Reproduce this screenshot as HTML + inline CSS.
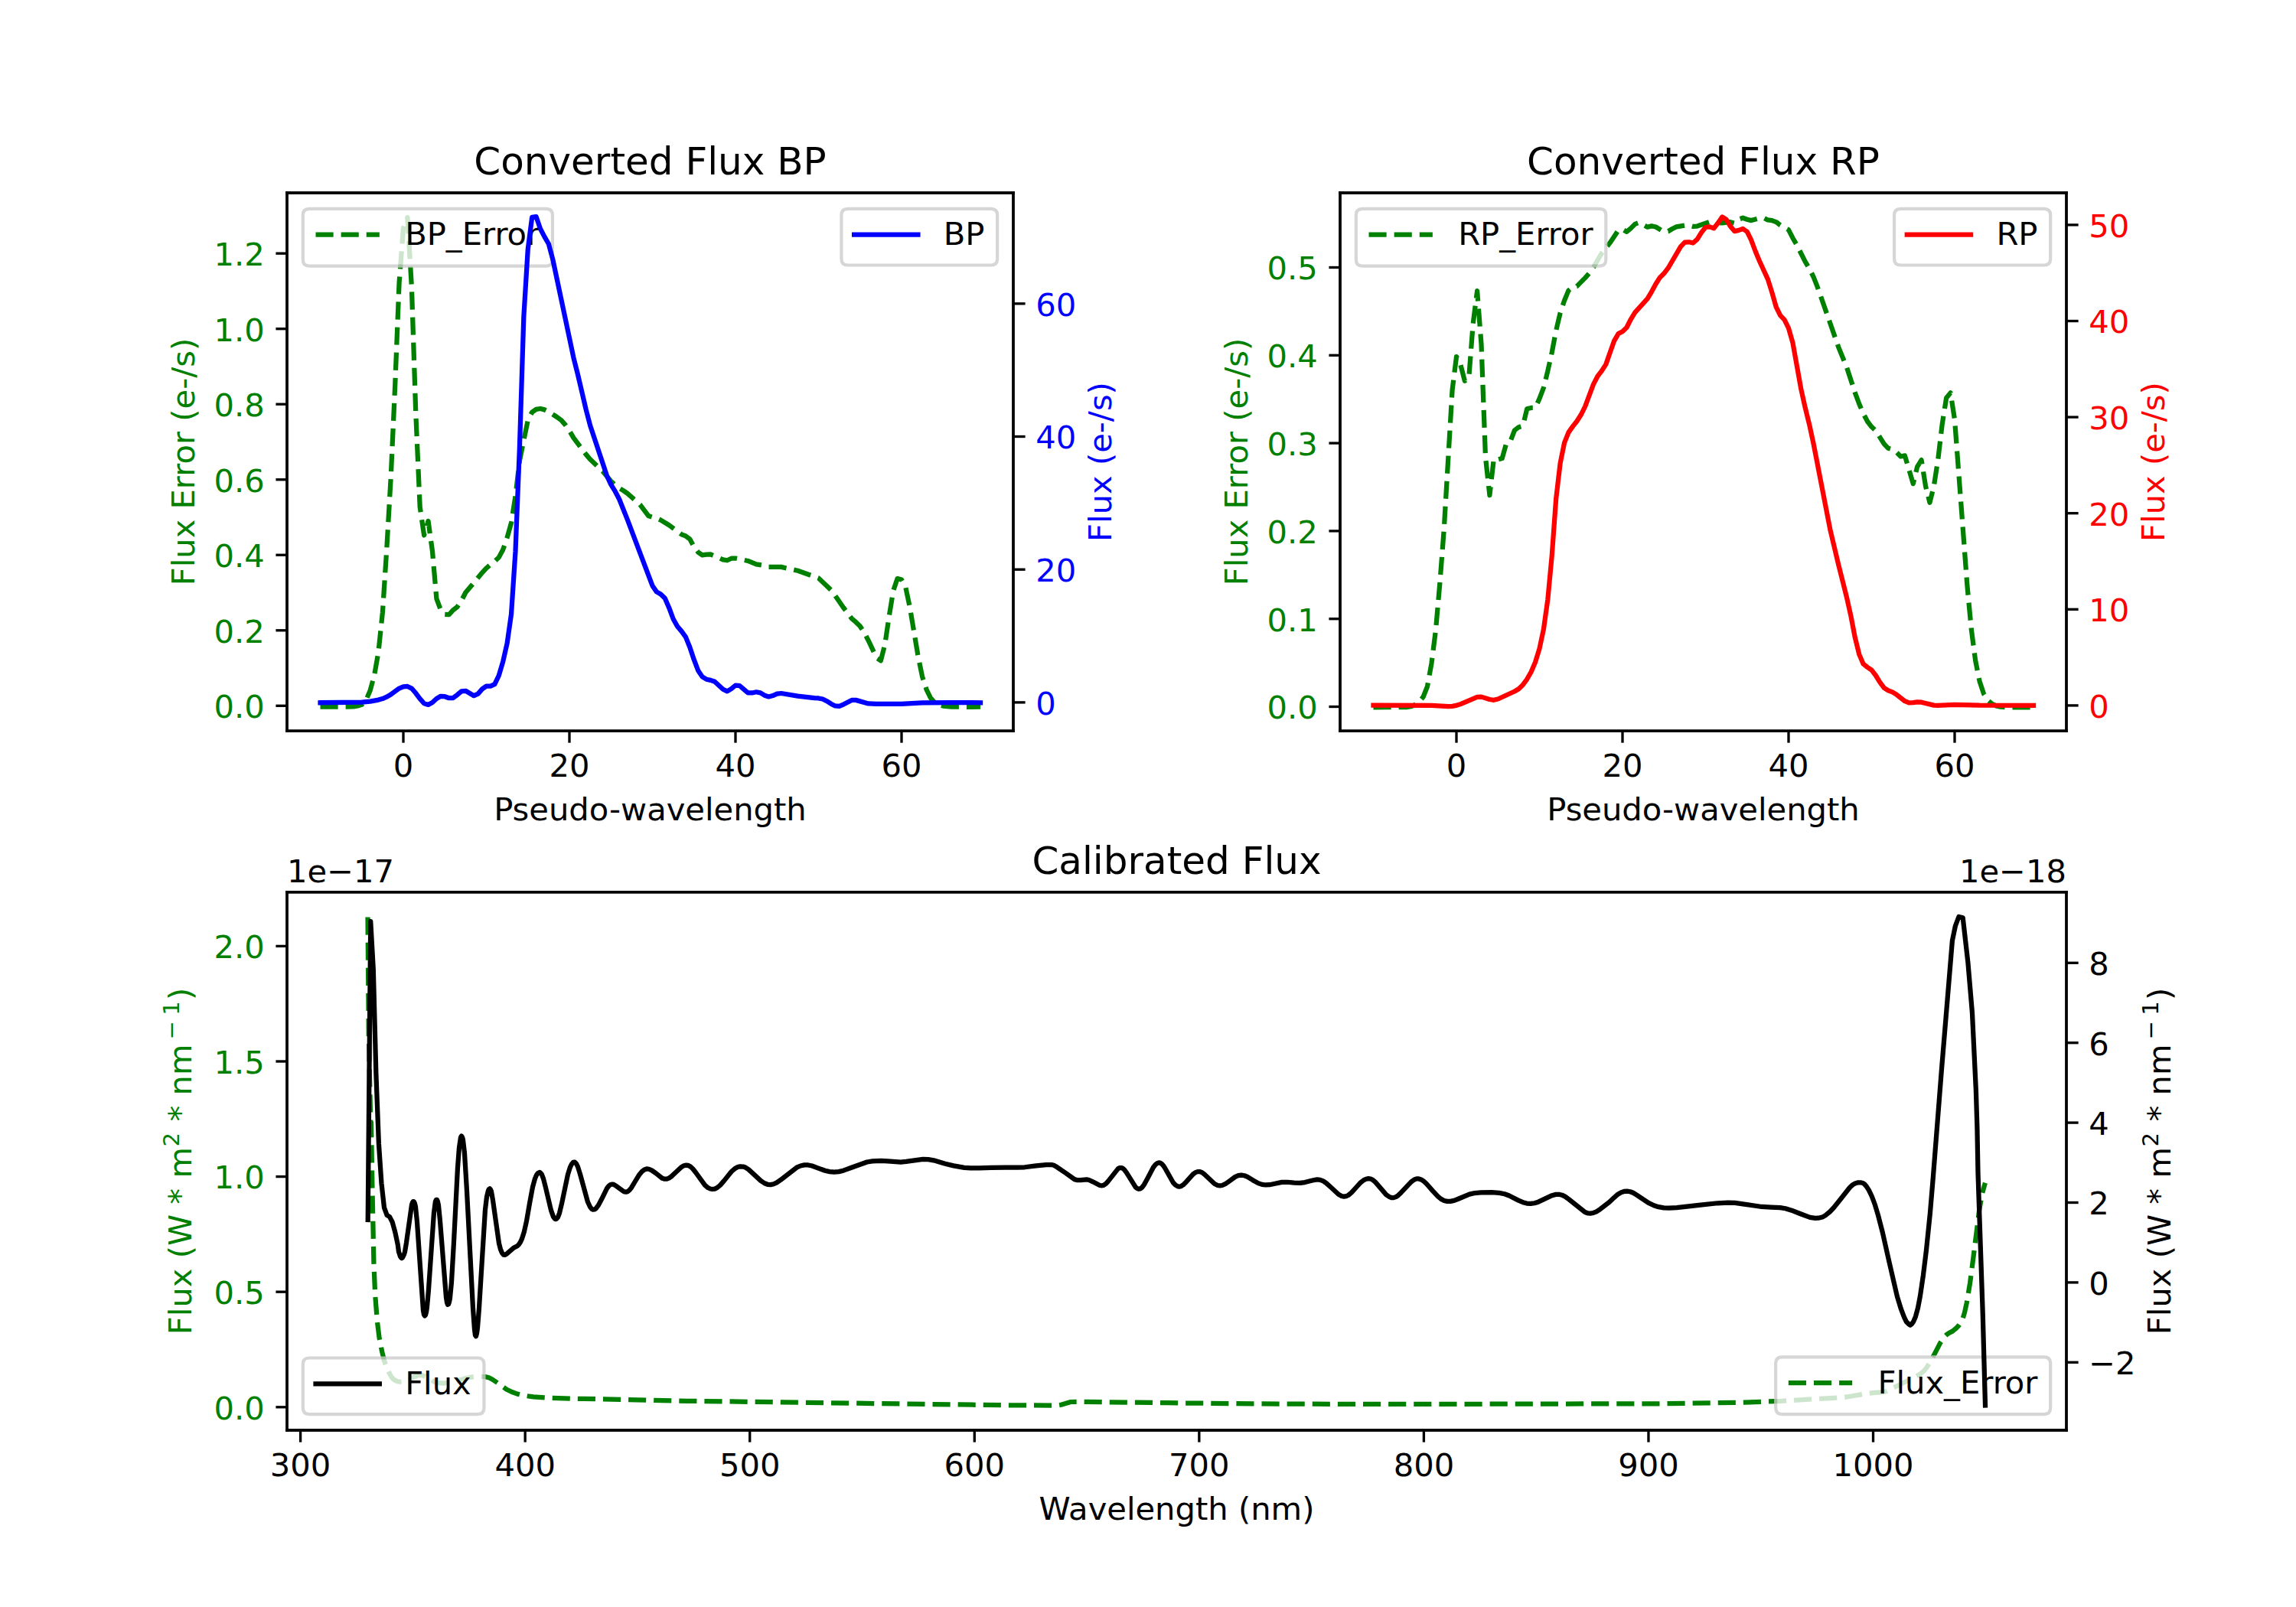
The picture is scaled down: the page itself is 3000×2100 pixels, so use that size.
<!DOCTYPE html>
<html lang="en"><head><meta charset="utf-8"><title>Gaia XP spectra</title>
<style>html,body{margin:0;padding:0;background:#fff}svg text{white-space:pre}</style></head>
<body><svg width="3000" height="2100" viewBox="0 0 720 504" style="display:block"><defs><style type="text/css">*{stroke-linejoin: round; stroke-linecap: butt}</style></defs><g id="figure_1"><g id="patch_1"><path d="M 0 504 L 720 504 L 720 0 L 0 0 z " style="fill: #ffffff"/></g><g id="axes_1"><g id="patch_2"><path d="M 90 229.210 L 317.755 229.210 L 317.755 60.48 L 90 60.48 z " style="fill: #ffffff"/></g><g id="matplotlib.axis_1"><g id="xtick_1"><g id="line2d_1"><g><path d="M 0 0 L 0 3.75" transform="translate(126.48 229.210)" style="stroke: #000000; stroke-width: 0.8"/></g></g><g id="text_1"><text style="font-size: 10px; font-family: 'DejaVu Sans', sans-serif; text-anchor: middle" x="126.48" y="243.558">0</text></g></g><g id="xtick_2"><g id="line2d_2"><g><path d="M 0 0 L 0 3.75" transform="translate(178.56 229.210)" style="stroke: #000000; stroke-width: 0.8"/></g></g><g id="text_2"><text style="font-size: 10px; font-family: 'DejaVu Sans', sans-serif; text-anchor: middle" x="178.56" y="243.558">20</text></g></g><g id="xtick_3"><g id="line2d_3"><g><path d="M 0 0 L 0 3.75" transform="translate(230.64 229.210)" style="stroke: #000000; stroke-width: 0.8"/></g></g><g id="text_3"><text style="font-size: 10px; font-family: 'DejaVu Sans', sans-serif; text-anchor: middle" x="230.64" y="243.558">40</text></g></g><g id="xtick_4"><g id="line2d_4"><g><path d="M 0 0 L 0 3.75" transform="translate(282.72 229.210)" style="stroke: #000000; stroke-width: 0.8"/></g></g><g id="text_4"><text style="font-size: 10px; font-family: 'DejaVu Sans', sans-serif; text-anchor: middle" x="282.72" y="243.558">60</text></g></g><g id="text_5"><text style="font-size: 10px; font-family: 'DejaVu Sans', sans-serif; text-anchor: middle" x="203.877" y="257.236">Pseudo-wavelength</text></g></g><g id="matplotlib.axis_2"><g id="ytick_1"><g id="line2d_5"><g><path d="M 0 0 L -3.5 0" transform="translate(90 221.352)" style="stroke: #000000; stroke-width: 0.8"/></g></g><g id="text_6"><text style="font-size: 10px; font-family: 'DejaVu Sans', sans-serif; text-anchor: end; fill: #008000" x="83" y="225.151">0.0</text></g></g><g id="ytick_2"><g id="line2d_6"><g><path d="M 0 0 L -3.5 0" transform="translate(90 197.707)" style="stroke: #000000; stroke-width: 0.8"/></g></g><g id="text_7"><text style="font-size: 10px; font-family: 'DejaVu Sans', sans-serif; text-anchor: end; fill: #008000" x="83" y="201.506">0.2</text></g></g><g id="ytick_3"><g id="line2d_7"><g><path d="M 0 0 L -3.5 0" transform="translate(90 174.062)" style="stroke: #000000; stroke-width: 0.8"/></g></g><g id="text_8"><text style="font-size: 10px; font-family: 'DejaVu Sans', sans-serif; text-anchor: end; fill: #008000" x="83" y="177.861">0.4</text></g></g><g id="ytick_4"><g id="line2d_8"><g><path d="M 0 0 L -3.5 0" transform="translate(90 150.417)" style="stroke: #000000; stroke-width: 0.8"/></g></g><g id="text_9"><text style="font-size: 10px; font-family: 'DejaVu Sans', sans-serif; text-anchor: end; fill: #008000" x="83" y="154.216">0.6</text></g></g><g id="ytick_5"><g id="line2d_9"><g><path d="M 0 0 L -3.5 0" transform="translate(90 126.772)" style="stroke: #000000; stroke-width: 0.8"/></g></g><g id="text_10"><text style="font-size: 10px; font-family: 'DejaVu Sans', sans-serif; text-anchor: end; fill: #008000" x="83" y="130.572">0.8</text></g></g><g id="ytick_6"><g id="line2d_10"><g><path d="M 0 0 L -3.5 0" transform="translate(90 103.128)" style="stroke: #000000; stroke-width: 0.8"/></g></g><g id="text_11"><text style="font-size: 10px; font-family: 'DejaVu Sans', sans-serif; text-anchor: end; fill: #008000" x="83" y="106.927">1.0</text></g></g><g id="ytick_7"><g id="line2d_11"><g><path d="M 0 0 L -3.5 0" transform="translate(90 79.483)" style="stroke: #000000; stroke-width: 0.8"/></g></g><g id="text_12"><text style="font-size: 10px; font-family: 'DejaVu Sans', sans-serif; text-anchor: end; fill: #008000" x="83" y="83.282">1.2</text></g></g><g id="text_13"><text style="font-size: 10px; font-family: 'DejaVu Sans', sans-serif; text-anchor: middle; fill: #008000" x="61.017" y="144.845" transform="rotate(-90 61.017 144.845)">Flux Error (e-/s)</text></g></g><g id="line2d_12"><path d="M 100.44 221.700 L 110.856 221.630 L 112.158 221.410 L 113.46 220.988 L 114.762 219.632 L 116.064 216.599 L 117.366 211.849 L 118.668 204.525 L 119.97 192.072 L 121.272 172.14 L 122.574 149.664 L 123.876 121.123 L 125.178 88.684 L 126.48 71.603 L 127.782 68.229 L 129.084 89.886 L 130.386 129.590 L 131.688 158.990 L 132.99 167.88 L 134.292 163.415 L 135.594 172.864 L 136.896 187.788 L 138.198 191.245 L 139.5 192.700 L 140.802 192.773 L 142.104 191.315 L 143.406 190.317 L 144.708 188.385 L 146.01 185.816 L 148.614 182.740 L 151.218 179.609 L 152.52 178.195 L 153.822 177.035 L 155.124 176.079 L 156.426 174.807 L 157.728 172.384 L 159.03 168.626 L 160.332 163.934 L 161.634 155.608 L 162.936 144.496 L 165.54 131.796 L 166.842 129.256 L 168.144 128.368 L 169.446 128.157 L 170.748 128.494 L 172.05 129.121 L 174.654 130.800 L 175.956 131.745 L 177.258 133.223 L 178.56 135.075 L 179.862 137.305 L 183.768 142.530 L 185.07 144.076 L 188.976 147.767 L 191.58 150.905 L 192.882 152.094 L 194.184 153.086 L 195.486 153.865 L 196.788 154.773 L 200.694 158.257 L 203.298 161.751 L 204.6 162.211 L 205.902 162.535 L 207.204 163.118 L 209.808 164.690 L 213.714 167.588 L 215.016 168.109 L 216.318 169.083 L 217.62 171.452 L 218.922 173.204 L 220.224 174.083 L 221.526 173.909 L 222.828 173.871 L 225.432 174.950 L 226.734 175.548 L 228.036 175.745 L 229.338 175.134 L 230.64 175.081 L 234.546 175.904 L 237.15 176.977 L 239.754 177.374 L 241.056 177.818 L 244.962 177.822 L 250.17 178.972 L 256.68 181.318 L 259.284 183.764 L 260.586 185.048 L 261.888 186.791 L 264.492 190.559 L 267.096 194.016 L 268.398 195.106 L 269.7 196.384 L 271.002 198.375 L 272.304 200.863 L 274.908 206.360 L 276.21 207.205 L 277.512 202.060 L 278.814 193.267 L 280.116 185.294 L 281.418 181.457 L 282.72 181.819 L 284.022 184.357 L 285.324 190.457 L 287.928 205.961 L 289.23 212.245 L 290.532 216.276 L 291.834 218.914 L 293.136 220.354 L 294.438 221.104 L 295.74 221.418 L 298.344 221.673 L 303.552 221.709 L 307.458 221.7 L 307.458 221.7 " clip-path="url(#p90ce2bbedb)" style="fill: none; stroke-dasharray: 5.55,2.4; stroke-dashoffset: 0; stroke: #008000; stroke-width: 1.5"/></g><g id="patch_3"><path d="M 90 229.210 L 90 60.48 " style="fill: none; stroke: #000000; stroke-width: 0.8; stroke-linejoin: miter; stroke-linecap: square"/></g><g id="patch_4"><path d="M 317.755 229.210 L 317.755 60.48 " style="fill: none; stroke: #000000; stroke-width: 0.8; stroke-linejoin: miter; stroke-linecap: square"/></g><g id="patch_5"><path d="M 90 229.210 L 317.755 229.210 " style="fill: none; stroke: #000000; stroke-width: 0.8; stroke-linejoin: miter; stroke-linecap: square"/></g><g id="patch_6"><path d="M 90 60.48 L 317.755 60.48 " style="fill: none; stroke: #000000; stroke-width: 0.8; stroke-linejoin: miter; stroke-linecap: square"/></g><g id="text_14"><text style="font-size: 12px; font-family: 'DejaVu Sans', sans-serif; text-anchor: middle" x="203.877" y="54.73">Converted Flux BP</text></g><g id="legend_1"><g id="patch_7"><path d="M 97 83.436 L 171.260 83.436 Q 173.260 83.436 173.260 81.436 L 173.260 67.48 Q 173.260 65.48 171.260 65.48 L 97 65.48 Q 95 65.48 95 67.48 L 95 81.436 Q 95 83.436 97 83.436 z " style="fill: #ffffff; opacity: 0.8; stroke: #cccccc; stroke-linejoin: miter"/></g><g id="line2d_13"><path d="M 99 73.578 L 109 73.578 L 119 73.578 " style="fill: none; stroke-dasharray: 5.55,2.4; stroke-dashoffset: 0; stroke: #008000; stroke-width: 1.5"/></g><g id="text_15"><text style="font-size: 10px; font-family: 'DejaVu Sans', sans-serif; text-anchor: start" x="127" y="76.838">BP_Error</text></g></g></g><g id="axes_2"><g id="patch_8"><path d="M 420.244 229.210 L 648 229.210 L 648 60.48 L 420.244 60.48 z " style="fill: #ffffff"/></g><g id="matplotlib.axis_3"><g id="xtick_5"><g id="line2d_14"><g><path d="M 0 0 L 0 3.75" transform="translate(456.72 229.210)" style="stroke: #000000; stroke-width: 0.8"/></g></g><g id="text_16"><text style="font-size: 10px; font-family: 'DejaVu Sans', sans-serif; text-anchor: middle" x="456.72" y="243.558">0</text></g></g><g id="xtick_6"><g id="line2d_15"><g><path d="M 0 0 L 0 3.75" transform="translate(508.8 229.210)" style="stroke: #000000; stroke-width: 0.8"/></g></g><g id="text_17"><text style="font-size: 10px; font-family: 'DejaVu Sans', sans-serif; text-anchor: middle" x="508.8" y="243.558">20</text></g></g><g id="xtick_7"><g id="line2d_16"><g><path d="M 0 0 L 0 3.75" transform="translate(560.88 229.210)" style="stroke: #000000; stroke-width: 0.8"/></g></g><g id="text_18"><text style="font-size: 10px; font-family: 'DejaVu Sans', sans-serif; text-anchor: middle" x="560.88" y="243.558">40</text></g></g><g id="xtick_8"><g id="line2d_17"><g><path d="M 0 0 L 0 3.75" transform="translate(612.96 229.210)" style="stroke: #000000; stroke-width: 0.8"/></g></g><g id="text_19"><text style="font-size: 10px; font-family: 'DejaVu Sans', sans-serif; text-anchor: middle" x="612.96" y="243.558">60</text></g></g><g id="text_20"><text style="font-size: 10px; font-family: 'DejaVu Sans', sans-serif; text-anchor: middle" x="534.122" y="257.236">Pseudo-wavelength</text></g></g><g id="matplotlib.axis_4"><g id="ytick_8"><g id="line2d_18"><g><path d="M 0 0 L -3.5 0" transform="translate(420.244 221.64)" style="stroke: #000000; stroke-width: 0.8"/></g></g><g id="text_21"><text style="font-size: 10px; font-family: 'DejaVu Sans', sans-serif; text-anchor: end; fill: #008000" x="413.244" y="225.439">0.0</text></g></g><g id="ytick_9"><g id="line2d_19"><g><path d="M 0 0 L -3.5 0" transform="translate(420.244 194.088)" style="stroke: #000000; stroke-width: 0.8"/></g></g><g id="text_22"><text style="font-size: 10px; font-family: 'DejaVu Sans', sans-serif; text-anchor: end; fill: #008000" x="413.244" y="197.887">0.1</text></g></g><g id="ytick_10"><g id="line2d_20"><g><path d="M 0 0 L -3.5 0" transform="translate(420.244 166.536)" style="stroke: #000000; stroke-width: 0.8"/></g></g><g id="text_23"><text style="font-size: 10px; font-family: 'DejaVu Sans', sans-serif; text-anchor: end; fill: #008000" x="413.244" y="170.335">0.2</text></g></g><g id="ytick_11"><g id="line2d_21"><g><path d="M 0 0 L -3.5 0" transform="translate(420.244 138.984)" style="stroke: #000000; stroke-width: 0.8"/></g></g><g id="text_24"><text style="font-size: 10px; font-family: 'DejaVu Sans', sans-serif; text-anchor: end; fill: #008000" x="413.244" y="142.783">0.3</text></g></g><g id="ytick_12"><g id="line2d_22"><g><path d="M 0 0 L -3.5 0" transform="translate(420.244 111.432)" style="stroke: #000000; stroke-width: 0.8"/></g></g><g id="text_25"><text style="font-size: 10px; font-family: 'DejaVu Sans', sans-serif; text-anchor: end; fill: #008000" x="413.244" y="115.231">0.4</text></g></g><g id="ytick_13"><g id="line2d_23"><g><path d="M 0 0 L -3.5 0" transform="translate(420.244 83.88)" style="stroke: #000000; stroke-width: 0.8"/></g></g><g id="text_26"><text style="font-size: 10px; font-family: 'DejaVu Sans', sans-serif; text-anchor: end; fill: #008000" x="413.244" y="87.679">0.5</text></g></g><g id="text_27"><text style="font-size: 10px; font-family: 'DejaVu Sans', sans-serif; text-anchor: middle; fill: #008000" x="391.262" y="144.845" transform="rotate(-90 391.262 144.845)">Flux Error (e-/s)</text></g></g><g id="line2d_24"><path d="M 430.68 221.820 L 441.096 221.792 L 442.398 221.587 L 443.7 221.107 L 445.002 220.174 L 446.304 218.580 L 447.606 215.284 L 448.908 208.069 L 450.21 197.807 L 451.512 183.031 L 452.814 166.162 L 455.418 122.319 L 456.72 111.847 L 458.022 114.422 L 459.324 119.466 L 460.626 118.453 L 461.928 101.555 L 463.23 91.240 L 464.532 108.137 L 465.834 143.374 L 467.136 155.296 L 468.438 143.917 L 469.74 144.131 L 471.042 143.779 L 472.344 139.144 L 473.646 138.388 L 474.948 134.974 L 476.25 133.955 L 477.552 133.551 L 478.854 128.234 L 480.156 127.919 L 481.458 127.917 L 482.76 125.004 L 484.062 121.587 L 485.364 116.319 L 486.666 110.491 L 487.968 103.635 L 489.27 98.140 L 490.572 94.251 L 491.874 91.102 L 493.176 90.038 L 494.478 89.801 L 497.082 87.137 L 498.384 85.662 L 499.686 83.849 L 502.29 79.390 L 504.894 76.122 L 507.498 72.215 L 508.8 71.915 L 510.102 72.702 L 511.404 71.602 L 512.706 70.281 L 514.008 69.811 L 516.612 71.208 L 517.914 70.895 L 519.216 71.158 L 521.82 72.737 L 523.122 72.539 L 524.424 71.755 L 525.726 71.129 L 528.33 70.678 L 529.632 70.662 L 530.934 71.026 L 532.236 70.933 L 536.142 69.607 L 537.444 69.583 L 538.746 69.877 L 540.048 69.941 L 541.35 69.738 L 542.652 69.648 L 543.954 69.988 L 545.256 68.783 L 546.558 68.340 L 547.86 68.817 L 549.162 69.146 L 551.766 68.398 L 553.068 68.307 L 554.37 68.985 L 555.672 69.150 L 556.974 69.619 L 558.276 70.607 L 560.88 72.077 L 562.182 74.629 L 563.484 76.877 L 566.088 82.061 L 567.39 84.241 L 568.692 86.861 L 569.994 90.158 L 576.504 108.793 L 579.108 115.205 L 581.712 123.136 L 583.014 126.666 L 584.316 129.689 L 585.618 132.183 L 586.92 133.882 L 588.222 135.099 L 590.826 139.241 L 592.128 140.597 L 593.43 140.949 L 594.732 141.878 L 596.034 143.153 L 597.336 142.904 L 599.94 151.712 L 601.242 146.358 L 602.544 144.277 L 603.846 152.448 L 605.148 157.610 L 606.45 152.408 L 607.752 144.030 L 609.054 133.004 L 610.356 124.803 L 611.658 123.204 L 612.96 131.546 L 616.866 183.283 L 618.168 197.202 L 619.47 207.170 L 620.772 213.645 L 622.074 217.595 L 623.376 219.627 L 624.678 220.749 L 625.98 221.379 L 627.282 221.698 L 629.886 221.847 L 637.698 221.82 L 637.698 221.82 " clip-path="url(#p267cb06d4f)" style="fill: none; stroke-dasharray: 5.55,2.4; stroke-dashoffset: 0; stroke: #008000; stroke-width: 1.5"/></g><g id="patch_9"><path d="M 420.244 229.210 L 420.244 60.48 " style="fill: none; stroke: #000000; stroke-width: 0.8; stroke-linejoin: miter; stroke-linecap: square"/></g><g id="patch_10"><path d="M 648 229.210 L 648 60.48 " style="fill: none; stroke: #000000; stroke-width: 0.8; stroke-linejoin: miter; stroke-linecap: square"/></g><g id="patch_11"><path d="M 420.244 229.210 L 648 229.210 " style="fill: none; stroke: #000000; stroke-width: 0.8; stroke-linejoin: miter; stroke-linecap: square"/></g><g id="patch_12"><path d="M 420.244 60.48 L 648 60.48 " style="fill: none; stroke: #000000; stroke-width: 0.8; stroke-linejoin: miter; stroke-linecap: square"/></g><g id="text_28"><text style="font-size: 12px; font-family: 'DejaVu Sans', sans-serif; text-anchor: middle" x="534.122" y="54.73">Converted Flux RP</text></g><g id="legend_2"><g id="patch_13"><path d="M 427.244 83.436 L 501.593 83.436 Q 503.593 83.436 503.593 81.436 L 503.593 67.48 Q 503.593 65.48 501.593 65.48 L 427.244 65.48 Q 425.244 65.48 425.244 67.48 L 425.244 81.436 Q 425.244 83.436 427.244 83.436 z " style="fill: #ffffff; opacity: 0.8; stroke: #cccccc; stroke-linejoin: miter"/></g><g id="line2d_25"><path d="M 429.244 73.578 L 439.244 73.578 L 449.244 73.578 " style="fill: none; stroke-dasharray: 5.55,2.4; stroke-dashoffset: 0; stroke: #008000; stroke-width: 1.5"/></g><g id="text_29"><text style="font-size: 10px; font-family: 'DejaVu Sans', sans-serif; text-anchor: start" x="457.244" y="76.838">RP_Error</text></g></g></g><g id="axes_3"><g id="patch_14"><path d="M 90 448.56 L 648 448.56 L 648 279.829 L 90 279.829 z " style="fill: #ffffff"/></g><g id="matplotlib.axis_5"><g id="xtick_9"><g id="line2d_26"><g><path d="M 0 0 L 0 3.75" transform="translate(94.224 448.56)" style="stroke: #000000; stroke-width: 0.8"/></g></g><g id="text_30"><text style="font-size: 10px; font-family: 'DejaVu Sans', sans-serif; text-anchor: middle" x="94.224" y="462.908">300</text></g></g><g id="xtick_10"><g id="line2d_27"><g><path d="M 0 0 L 0 3.75" transform="translate(164.678 448.56)" style="stroke: #000000; stroke-width: 0.8"/></g></g><g id="text_31"><text style="font-size: 10px; font-family: 'DejaVu Sans', sans-serif; text-anchor: middle" x="164.678" y="462.908">400</text></g></g><g id="xtick_11"><g id="line2d_28"><g><path d="M 0 0 L 0 3.75" transform="translate(235.132 448.56)" style="stroke: #000000; stroke-width: 0.8"/></g></g><g id="text_32"><text style="font-size: 10px; font-family: 'DejaVu Sans', sans-serif; text-anchor: middle" x="235.132" y="462.908">500</text></g></g><g id="xtick_12"><g id="line2d_29"><g><path d="M 0 0 L 0 3.75" transform="translate(305.587 448.56)" style="stroke: #000000; stroke-width: 0.8"/></g></g><g id="text_33"><text style="font-size: 10px; font-family: 'DejaVu Sans', sans-serif; text-anchor: middle" x="305.587" y="462.908">600</text></g></g><g id="xtick_13"><g id="line2d_30"><g><path d="M 0 0 L 0 3.75" transform="translate(376.041 448.56)" style="stroke: #000000; stroke-width: 0.8"/></g></g><g id="text_34"><text style="font-size: 10px; font-family: 'DejaVu Sans', sans-serif; text-anchor: middle" x="376.041" y="462.908">700</text></g></g><g id="xtick_14"><g id="line2d_31"><g><path d="M 0 0 L 0 3.75" transform="translate(446.496 448.56)" style="stroke: #000000; stroke-width: 0.8"/></g></g><g id="text_35"><text style="font-size: 10px; font-family: 'DejaVu Sans', sans-serif; text-anchor: middle" x="446.496" y="462.908">800</text></g></g><g id="xtick_15"><g id="line2d_32"><g><path d="M 0 0 L 0 3.75" transform="translate(516.950 448.56)" style="stroke: #000000; stroke-width: 0.8"/></g></g><g id="text_36"><text style="font-size: 10px; font-family: 'DejaVu Sans', sans-serif; text-anchor: middle" x="516.950" y="462.908">900</text></g></g><g id="xtick_16"><g id="line2d_33"><g><path d="M 0 0 L 0 3.75" transform="translate(587.404 448.56)" style="stroke: #000000; stroke-width: 0.8"/></g></g><g id="text_37"><text style="font-size: 10px; font-family: 'DejaVu Sans', sans-serif; text-anchor: middle" x="587.404" y="462.908">1000</text></g></g><g id="text_38"><text style="font-size: 10px; font-family: 'DejaVu Sans', sans-serif; text-anchor: middle" x="369" y="476.586">Wavelength (nm)</text></g></g><g id="matplotlib.axis_6"><g id="ytick_14"><g id="line2d_34"><g><path d="M 0 0 L -3.5 0" transform="translate(90 441.312)" style="stroke: #000000; stroke-width: 0.8"/></g></g><g id="text_39"><text style="font-size: 10px; font-family: 'DejaVu Sans', sans-serif; text-anchor: end; fill: #008000" x="83" y="445.111">0.0</text></g></g><g id="ytick_15"><g id="line2d_35"><g><path d="M 0 0 L -3.5 0" transform="translate(90 405.168)" style="stroke: #000000; stroke-width: 0.8"/></g></g><g id="text_40"><text style="font-size: 10px; font-family: 'DejaVu Sans', sans-serif; text-anchor: end; fill: #008000" x="83" y="408.967">0.5</text></g></g><g id="ytick_16"><g id="line2d_36"><g><path d="M 0 0 L -3.5 0" transform="translate(90 369.024)" style="stroke: #000000; stroke-width: 0.8"/></g></g><g id="text_41"><text style="font-size: 10px; font-family: 'DejaVu Sans', sans-serif; text-anchor: end; fill: #008000" x="83" y="372.823">1.0</text></g></g><g id="ytick_17"><g id="line2d_37"><g><path d="M 0 0 L -3.5 0" transform="translate(90 332.88)" style="stroke: #000000; stroke-width: 0.8"/></g></g><g id="text_42"><text style="font-size: 10px; font-family: 'DejaVu Sans', sans-serif; text-anchor: end; fill: #008000" x="83" y="336.679">1.5</text></g></g><g id="ytick_18"><g id="line2d_38"><g><path d="M 0 0 L -3.5 0" transform="translate(90 296.736)" style="stroke: #000000; stroke-width: 0.8"/></g></g><g id="text_43"><text style="font-size: 10px; font-family: 'DejaVu Sans', sans-serif; text-anchor: end; fill: #008000" x="83" y="300.535">2.0</text></g></g><g id="text_44"><!-- Flux (W * m$^2$ * nm$^-$$^1$) --><g style="fill: #008000" transform="translate(61.017 418.594) rotate(-90)"><text style="font-size: 10px; font-family: 'DejaVu Sans', sans-serif; fill: #008000"><tspan x="0.000" y="-0.977">Flux (W * m</tspan><tspan x="58.948" y="-4.805" style="font-size: 7px">2</tspan><tspan x="63.675" y="-0.977"> * nm</tspan><tspan x="92.571" y="-4.805" style="font-size: 7px">−</tspan><tspan x="100.169" y="-4.805" style="font-size: 7px">1</tspan><tspan x="104.896" y="-0.977">)</tspan></text></g></g><g id="text_45"><text style="font-size: 10px; font-family: 'DejaVu Sans', sans-serif; text-anchor: start" x="90" y="276.829">1e−17</text></g></g><g id="line2d_39"><path d="M 115.32 287.64 L 115.623 324.284 L 116.22 351.84 L 116.4 352.08 L 116.7 370.08 L 117.216 395.955 L 117.646 406.170 L 118.289 414.348 L 118.925 419.497 L 119.7 423.48 L 120.429 426.515 L 121.153 428.627 L 122.015 430.512 L 122.738 431.800 L 123.3 432.48 L 123.927 432.930 L 124.646 433.238 L 125.4 433.38 L 126.182 433.307 L 127.8 432.78 L 129.6 431.955 L 130.855 431.418 L 131.808 431.259 L 132.622 431.410 L 133.8 431.88 L 134.6 432.353 L 136.2 433.38 L 137.378 433.692 L 139.066 433.806 L 141.098 433.648 L 142.755 433.248 L 145.802 432.331 L 148.233 431.834 L 149.841 431.696 L 152.107 431.791 L 153.314 432.063 L 154.360 432.592 L 156.4 433.969 L 158.783 435.710 L 160.385 436.511 L 162.254 437.181 L 164.429 437.702 L 167.283 438.109 L 170.886 438.361 L 179.624 438.631 L 215.493 439.382 L 315.915 440.717 L 331.364 440.775 L 332.769 440.575 L 335.76 439.68 L 339.137 439.635 L 369.811 440.025 L 401.825 440.313 L 437.52 440.4 L 521.28 440.227 L 546.849 439.841 L 558.525 439.413 L 568.279 438.828 L 578.282 438.254 L 580.235 437.948 L 585.215 437.066 L 587.885 436.756 L 590.314 436.662 L 591.404 436.399 L 592.898 435.691 L 596.88 433.68 L 602.004 431.062 L 603.209 430.061 L 604.012 429.130 L 605.231 427.265 L 606.73 424.490 L 608.472 421.124 L 609.658 419.354 L 610.475 418.541 L 611.065 418.157 L 612.285 417.508 L 613.492 416.513 L 614.28 415.68 L 615.042 414.521 L 615.517 413.483 L 616.081 411.645 L 616.733 408.626 L 617.76 402.48 L 618.720 395.124 L 620.631 379.910 L 621.568 374.466 L 622.312 371.727 L 622.56 370.98 L 622.56 370.98 " clip-path="url(#p043216e6e3)" style="fill: none; stroke-dasharray: 5.55,2.4; stroke-dashoffset: 0; stroke: #008000; stroke-width: 1.5"/></g><g id="patch_15"><path d="M 90 448.56 L 90 279.829 " style="fill: none; stroke: #000000; stroke-width: 0.8; stroke-linejoin: miter; stroke-linecap: square"/></g><g id="patch_16"><path d="M 648 448.56 L 648 279.829 " style="fill: none; stroke: #000000; stroke-width: 0.8; stroke-linejoin: miter; stroke-linecap: square"/></g><g id="patch_17"><path d="M 90 448.56 L 648 448.56 " style="fill: none; stroke: #000000; stroke-width: 0.8; stroke-linejoin: miter; stroke-linecap: square"/></g><g id="patch_18"><path d="M 90 279.829 L 648 279.829 " style="fill: none; stroke: #000000; stroke-width: 0.8; stroke-linejoin: miter; stroke-linecap: square"/></g><g id="text_46"><text style="font-size: 12px; font-family: 'DejaVu Sans', sans-serif; text-anchor: middle" x="369" y="274.079">Calibrated Flux</text></g><g id="legend_3"><g id="patch_19"><path d="M 558.843 443.56 L 641 443.56 Q 643 443.56 643 441.56 L 643 427.603 Q 643 425.603 641 425.603 L 558.843 425.603 Q 556.843 425.603 556.843 427.603 L 556.843 441.56 Q 556.843 443.56 558.843 443.56 z " style="fill: #ffffff; opacity: 0.8; stroke: #cccccc; stroke-linejoin: miter"/></g><g id="line2d_40"><path d="M 560.843 433.702 L 570.843 433.702 L 580.843 433.702 " style="fill: none; stroke-dasharray: 5.55,2.4; stroke-dashoffset: 0; stroke: #008000; stroke-width: 1.5"/></g><g id="text_47"><text style="font-size: 10px; font-family: 'DejaVu Sans', sans-serif; text-anchor: start" x="588.843" y="436.962">Flux_Error</text></g></g></g><g id="axes_4"><g id="matplotlib.axis_7"><g id="ytick_19"><g id="line2d_41"><g><path d="M 0 0 L 3.75 0" transform="translate(317.755 220.296)" style="stroke: #000000; stroke-width: 0.8"/></g></g><g id="text_48"><text style="font-size: 10px; font-family: 'DejaVu Sans', sans-serif; text-anchor: start; fill: #0000ff" x="324.755" y="224.095">0</text></g></g><g id="ytick_20"><g id="line2d_42"><g><path d="M 0 0 L 3.75 0" transform="translate(317.755 178.608)" style="stroke: #000000; stroke-width: 0.8"/></g></g><g id="text_49"><text style="font-size: 10px; font-family: 'DejaVu Sans', sans-serif; text-anchor: start; fill: #0000ff" x="324.755" y="182.407">20</text></g></g><g id="ytick_21"><g id="line2d_43"><g><path d="M 0 0 L 3.75 0" transform="translate(317.755 136.92)" style="stroke: #000000; stroke-width: 0.8"/></g></g><g id="text_50"><text style="font-size: 10px; font-family: 'DejaVu Sans', sans-serif; text-anchor: start; fill: #0000ff" x="324.755" y="140.719">40</text></g></g><g id="ytick_22"><g id="line2d_44"><g><path d="M 0 0 L 3.75 0" transform="translate(317.755 95.232)" style="stroke: #000000; stroke-width: 0.8"/></g></g><g id="text_51"><text style="font-size: 10px; font-family: 'DejaVu Sans', sans-serif; text-anchor: start; fill: #0000ff" x="324.755" y="99.031">60</text></g></g><g id="text_52"><text style="font-size: 10px; font-family: 'DejaVu Sans', sans-serif; text-anchor: middle; fill: #0000ff" x="348.578" y="144.845" transform="rotate(-90 348.578 144.845)">Flux (e-/s)</text></g></g><g id="line2d_45"><path d="M 100.44 220.379 L 113.46 220.238 L 116.064 219.986 L 118.668 219.501 L 119.97 219.130 L 121.272 218.564 L 122.574 217.805 L 125.178 215.896 L 126.48 215.342 L 127.782 215.275 L 129.084 215.894 L 130.386 217.393 L 131.688 219.161 L 132.99 220.631 L 134.292 221.019 L 135.594 220.324 L 136.896 219.108 L 138.198 218.360 L 139.5 218.449 L 140.802 218.936 L 142.104 218.890 L 143.406 217.914 L 144.708 216.784 L 146.01 216.669 L 148.614 218.204 L 149.916 217.592 L 151.218 216.102 L 152.52 215.187 L 153.822 215.172 L 155.124 214.590 L 156.426 211.876 L 157.728 207.486 L 159.03 201.755 L 160.332 192.601 L 161.634 173.029 L 162.936 140.396 L 164.238 99.461 L 165.54 78.197 L 166.842 68.111 L 168.144 67.957 L 169.446 71.744 L 170.748 74.239 L 172.05 76.492 L 173.352 81.359 L 179.862 112.191 L 181.164 117.332 L 183.768 128.440 L 185.07 133.426 L 190.278 149.122 L 191.58 151.948 L 192.882 154.075 L 194.184 156.539 L 196.788 163.066 L 204.6 183.72 L 205.902 185.606 L 207.204 186.357 L 208.506 187.630 L 209.808 190.598 L 211.11 194.107 L 212.412 196.448 L 213.714 197.966 L 215.016 199.769 L 216.318 202.970 L 217.62 206.867 L 218.922 210.300 L 220.224 212.251 L 221.526 213.046 L 222.828 213.333 L 224.13 213.785 L 226.734 216.184 L 228.036 216.812 L 229.338 216.019 L 230.64 214.953 L 231.942 215.062 L 234.546 217.292 L 235.848 217.312 L 237.15 217.028 L 238.452 217.299 L 239.754 218.087 L 241.056 218.519 L 242.358 218.175 L 243.66 217.602 L 244.962 217.445 L 250.17 218.305 L 252.774 218.588 L 255.378 218.898 L 256.68 218.987 L 257.982 219.234 L 259.284 219.890 L 260.586 220.731 L 261.888 221.396 L 263.19 221.502 L 264.492 220.941 L 267.096 219.576 L 268.398 219.568 L 272.304 220.661 L 274.908 220.790 L 282.72 220.772 L 289.23 220.401 L 298.344 220.376 L 307.458 220.38 L 307.458 220.38 " clip-path="url(#p90ce2bbedb)" style="fill: none; stroke: #0000ff; stroke-width: 1.5; stroke-linecap: square"/></g><g id="patch_20"><path d="M 90 229.210 L 90 60.48 " style="fill: none; stroke: #000000; stroke-width: 0.8; stroke-linejoin: miter; stroke-linecap: square"/></g><g id="patch_21"><path d="M 317.755 229.210 L 317.755 60.48 " style="fill: none; stroke: #000000; stroke-width: 0.8; stroke-linejoin: miter; stroke-linecap: square"/></g><g id="patch_22"><path d="M 90 229.210 L 317.755 229.210 " style="fill: none; stroke: #000000; stroke-width: 0.8; stroke-linejoin: miter; stroke-linecap: square"/></g><g id="patch_23"><path d="M 90 60.48 L 317.755 60.48 " style="fill: none; stroke: #000000; stroke-width: 0.8; stroke-linejoin: miter; stroke-linecap: square"/></g><g id="legend_4"><g id="patch_24"><path d="M 265.864 83.158 L 310.755 83.158 Q 312.755 83.158 312.755 81.158 L 312.755 67.48 Q 312.755 65.48 310.755 65.48 L 265.864 65.48 Q 263.864 65.48 263.864 67.48 L 263.864 81.158 Q 263.864 83.158 265.864 83.158 z " style="fill: #ffffff; opacity: 0.8; stroke: #cccccc; stroke-linejoin: miter"/></g><g id="line2d_46"><path d="M 267.864 73.578 L 277.864 73.578 L 287.864 73.578 " style="fill: none; stroke: #0000ff; stroke-width: 1.5; stroke-linecap: square"/></g><g id="text_53"><text style="font-size: 10px; font-family: 'DejaVu Sans', sans-serif; text-anchor: start" x="295.864" y="76.838">BP</text></g></g></g><g id="axes_5"><g id="matplotlib.axis_8"><g id="ytick_23"><g id="line2d_47"><g><path d="M 0 0 L 3.75 0" transform="translate(648 221.256)" style="stroke: #000000; stroke-width: 0.8"/></g></g><g id="text_54"><text style="font-size: 10px; font-family: 'DejaVu Sans', sans-serif; text-anchor: start; fill: #ff0000" x="655" y="225.055">0</text></g></g><g id="ytick_24"><g id="line2d_48"><g><path d="M 0 0 L 3.75 0" transform="translate(648 191.112)" style="stroke: #000000; stroke-width: 0.8"/></g></g><g id="text_55"><text style="font-size: 10px; font-family: 'DejaVu Sans', sans-serif; text-anchor: start; fill: #ff0000" x="655" y="194.911">10</text></g></g><g id="ytick_25"><g id="line2d_49"><g><path d="M 0 0 L 3.75 0" transform="translate(648 160.968)" style="stroke: #000000; stroke-width: 0.8"/></g></g><g id="text_56"><text style="font-size: 10px; font-family: 'DejaVu Sans', sans-serif; text-anchor: start; fill: #ff0000" x="655" y="164.767">20</text></g></g><g id="ytick_26"><g id="line2d_50"><g><path d="M 0 0 L 3.75 0" transform="translate(648 130.824)" style="stroke: #000000; stroke-width: 0.8"/></g></g><g id="text_57"><text style="font-size: 10px; font-family: 'DejaVu Sans', sans-serif; text-anchor: start; fill: #ff0000" x="655" y="134.623">30</text></g></g><g id="ytick_27"><g id="line2d_51"><g><path d="M 0 0 L 3.75 0" transform="translate(648 100.68)" style="stroke: #000000; stroke-width: 0.8"/></g></g><g id="text_58"><text style="font-size: 10px; font-family: 'DejaVu Sans', sans-serif; text-anchor: start; fill: #ff0000" x="655" y="104.479">40</text></g></g><g id="ytick_28"><g id="line2d_52"><g><path d="M 0 0 L 3.75 0" transform="translate(648 70.536)" style="stroke: #000000; stroke-width: 0.8"/></g></g><g id="text_59"><text style="font-size: 10px; font-family: 'DejaVu Sans', sans-serif; text-anchor: start; fill: #ff0000" x="655" y="74.335">50</text></g></g><g id="text_60"><text style="font-size: 10px; font-family: 'DejaVu Sans', sans-serif; text-anchor: middle; fill: #ff0000" x="678.823" y="144.845" transform="rotate(-90 678.823 144.845)">Flux (e-/s)</text></g></g><g id="line2d_53"><path d="M 430.68 221.219 L 448.908 221.272 L 454.116 221.530 L 455.418 221.486 L 456.72 221.244 L 458.022 220.832 L 463.23 218.620 L 464.532 218.550 L 467.136 219.367 L 468.438 219.548 L 469.74 219.236 L 474.948 216.846 L 476.25 216.070 L 477.552 214.788 L 478.854 213.015 L 480.156 210.700 L 481.458 207.651 L 482.76 203.428 L 484.062 197.304 L 485.364 188.000 L 486.666 174.182 L 487.968 156.310 L 489.27 145.314 L 490.572 138.879 L 491.874 135.622 L 493.176 133.764 L 494.478 132.112 L 495.78 130.085 L 497.082 127.460 L 499.686 120.505 L 500.988 118.007 L 502.29 116.297 L 503.592 114.273 L 506.196 106.876 L 507.498 104.656 L 508.8 103.976 L 510.102 102.719 L 511.404 100.145 L 512.706 98.009 L 516.612 93.684 L 517.914 91.522 L 519.216 89.088 L 520.518 87.045 L 521.82 85.764 L 523.122 84.053 L 527.028 77.368 L 528.33 76.009 L 529.632 75.914 L 530.934 76.200 L 532.236 75.050 L 533.538 72.933 L 534.84 71.28 L 536.142 71.138 L 537.444 71.618 L 538.746 69.939 L 540.048 68.035 L 541.35 68.869 L 542.652 71.017 L 543.954 72.532 L 545.256 72.207 L 546.558 71.763 L 547.86 72.657 L 549.162 75.297 L 550.464 78.776 L 551.766 81.909 L 554.37 87.563 L 555.672 91.715 L 556.974 96.288 L 558.276 98.927 L 559.578 100.301 L 560.88 102.926 L 562.182 107.466 L 564.786 122.014 L 566.088 127.880 L 567.39 133.128 L 568.692 139.132 L 573.9 165.999 L 576.504 176.987 L 579.108 187.348 L 580.41 193.170 L 581.712 199.941 L 583.014 205.228 L 584.316 208.236 L 585.618 209.287 L 586.92 210.170 L 588.222 211.864 L 589.524 213.967 L 590.826 215.704 L 592.128 216.557 L 593.43 217.065 L 594.732 217.845 L 597.336 219.895 L 598.638 220.425 L 599.94 220.358 L 601.242 220.150 L 602.544 220.247 L 606.45 221.187 L 607.752 221.276 L 610.356 221.115 L 612.96 220.987 L 620.772 221.215 L 637.698 221.22 L 637.698 221.22 " clip-path="url(#p267cb06d4f)" style="fill: none; stroke: #ff0000; stroke-width: 1.5; stroke-linecap: square"/></g><g id="patch_25"><path d="M 420.244 229.210 L 420.244 60.48 " style="fill: none; stroke: #000000; stroke-width: 0.8; stroke-linejoin: miter; stroke-linecap: square"/></g><g id="patch_26"><path d="M 648 229.210 L 648 60.48 " style="fill: none; stroke: #000000; stroke-width: 0.8; stroke-linejoin: miter; stroke-linecap: square"/></g><g id="patch_27"><path d="M 420.244 229.210 L 648 229.210 " style="fill: none; stroke: #000000; stroke-width: 0.8; stroke-linejoin: miter; stroke-linecap: square"/></g><g id="patch_28"><path d="M 420.244 60.48 L 648 60.48 " style="fill: none; stroke: #000000; stroke-width: 0.8; stroke-linejoin: miter; stroke-linecap: square"/></g><g id="legend_5"><g id="patch_29"><path d="M 596.021 83.158 L 641 83.158 Q 643 83.158 643 81.158 L 643 67.48 Q 643 65.48 641 65.48 L 596.021 65.48 Q 594.021 65.48 594.021 67.48 L 594.021 81.158 Q 594.021 83.158 596.021 83.158 z " style="fill: #ffffff; opacity: 0.8; stroke: #cccccc; stroke-linejoin: miter"/></g><g id="line2d_54"><path d="M 598.021 73.578 L 608.021 73.578 L 618.021 73.578 " style="fill: none; stroke: #ff0000; stroke-width: 1.5; stroke-linecap: square"/></g><g id="text_61"><text style="font-size: 10px; font-family: 'DejaVu Sans', sans-serif; text-anchor: start" x="626.021" y="76.838">RP</text></g></g></g><g id="axes_6"><g id="matplotlib.axis_9"><g id="ytick_29"><g id="line2d_55"><g><path d="M 0 0 L 3.75 0" transform="translate(648 427.272)" style="stroke: #000000; stroke-width: 0.8"/></g></g><g id="text_62"><text style="font-size: 10px; font-family: 'DejaVu Sans', sans-serif; text-anchor: start" x="655" y="431.071">−2</text></g></g><g id="ytick_30"><g id="line2d_56"><g><path d="M 0 0 L 3.75 0" transform="translate(648 402.216)" style="stroke: #000000; stroke-width: 0.8"/></g></g><g id="text_63"><text style="font-size: 10px; font-family: 'DejaVu Sans', sans-serif; text-anchor: start" x="655" y="406.015">0</text></g></g><g id="ytick_31"><g id="line2d_57"><g><path d="M 0 0 L 3.75 0" transform="translate(648 377.16)" style="stroke: #000000; stroke-width: 0.8"/></g></g><g id="text_64"><text style="font-size: 10px; font-family: 'DejaVu Sans', sans-serif; text-anchor: start" x="655" y="380.959">2</text></g></g><g id="ytick_32"><g id="line2d_58"><g><path d="M 0 0 L 3.75 0" transform="translate(648 352.104)" style="stroke: #000000; stroke-width: 0.8"/></g></g><g id="text_65"><text style="font-size: 10px; font-family: 'DejaVu Sans', sans-serif; text-anchor: start" x="655" y="355.903">4</text></g></g><g id="ytick_33"><g id="line2d_59"><g><path d="M 0 0 L 3.75 0" transform="translate(648 327.048)" style="stroke: #000000; stroke-width: 0.8"/></g></g><g id="text_66"><text style="font-size: 10px; font-family: 'DejaVu Sans', sans-serif; text-anchor: start" x="655" y="330.847">6</text></g></g><g id="ytick_34"><g id="line2d_60"><g><path d="M 0 0 L 3.75 0" transform="translate(648 301.992)" style="stroke: #000000; stroke-width: 0.8"/></g></g><g id="text_67"><text style="font-size: 10px; font-family: 'DejaVu Sans', sans-serif; text-anchor: start" x="655" y="305.791">8</text></g></g><g id="text_68"><!-- Flux (W * m$^2$ * nm$^-$$^1$) --><g transform="translate(681.662 418.594) rotate(-90)"><text style="font-size: 10px; font-family: 'DejaVu Sans', sans-serif"><tspan x="0.000" y="-0.977">Flux (W * m</tspan><tspan x="58.948" y="-4.805" style="font-size: 7px">2</tspan><tspan x="63.675" y="-0.977"> * nm</tspan><tspan x="92.571" y="-4.805" style="font-size: 7px">−</tspan><tspan x="100.169" y="-4.805" style="font-size: 7px">1</tspan><tspan x="104.896" y="-0.977">)</tspan></text></g></g><g id="text_69"><text style="font-size: 10px; font-family: 'DejaVu Sans', sans-serif; text-anchor: end" x="648" y="276.829">1e−18</text></g></g><g id="line2d_61"><path d="M 115.368 382.56 L 116.22 288.96 L 117.072 303.988 L 117.924 336.655 L 118.776 358.669 L 119.628 371.113 L 120.48 378.756 L 121.332 381.081 L 122.184 381.614 L 123.036 383.275 L 123.888 386.387 L 124.74 390.326 L 125.026 392.556 L 125.506 394.045 L 125.746 394.422 L 125.986 394.589 L 126.226 394.432 L 126.706 393.463 L 126.946 392.678 L 127.426 389.801 L 129.106 377.895 L 129.346 377.174 L 129.586 376.822 L 129.826 376.876 L 130.066 377.458 L 130.306 378.408 L 130.786 383.104 L 132.706 410.960 L 132.946 412.236 L 133.186 412.682 L 133.426 412.448 L 133.666 411.587 L 133.906 410.043 L 134.386 404.630 L 136.066 380.437 L 136.546 376.803 L 136.786 376.282 L 137.026 376.307 L 137.266 376.809 L 137.506 377.981 L 137.986 382.730 L 139.906 406.811 L 140.146 408.401 L 140.386 409.128 L 140.626 409.043 L 140.866 408.419 L 141.106 407.177 L 141.586 402.218 L 142.306 389.725 L 143.506 366.355 L 143.986 359.998 L 144.466 356.730 L 144.706 356.285 L 144.946 356.650 L 145.186 357.418 L 145.666 361.518 L 146.386 373.264 L 148.306 410.138 L 148.786 416.792 L 149.026 418.719 L 149.266 419.078 L 149.506 418.233 L 149.746 416.524 L 150.226 410.447 L 152.146 379.492 L 152.626 375.440 L 153.106 373.425 L 153.346 372.950 L 153.586 372.781 L 153.826 373.047 L 154.066 373.632 L 154.546 376.349 L 156.466 389.865 L 156.946 391.808 L 157.426 392.936 L 157.906 393.521 L 158.386 393.587 L 158.866 393.279 L 161.026 391.393 L 162.226 390.767 L 162.706 390.314 L 163.186 389.570 L 163.666 388.521 L 164.386 386.266 L 165.106 383.026 L 166.066 377.487 L 167.026 372.319 L 167.746 369.689 L 168.226 368.543 L 168.706 367.904 L 169.186 367.660 L 169.426 367.764 L 169.906 368.360 L 170.386 369.601 L 171.106 372.406 L 172.786 379.537 L 173.506 381.578 L 173.986 382.242 L 174.226 382.354 L 174.466 382.294 L 174.946 381.744 L 175.426 380.537 L 176.146 377.537 L 178.066 368.378 L 178.786 366.091 L 179.266 365.098 L 179.746 364.551 L 179.986 364.456 L 180.226 364.485 L 180.706 364.919 L 181.186 365.904 L 181.906 368.178 L 184.306 376.933 L 185.026 378.487 L 185.506 379.116 L 185.986 379.378 L 186.466 379.297 L 186.946 378.938 L 187.666 377.975 L 188.626 376.142 L 190.306 372.728 L 191.026 371.820 L 191.506 371.508 L 191.986 371.411 L 192.466 371.504 L 193.186 371.916 L 195.586 373.701 L 196.306 373.846 L 196.786 373.715 L 197.266 373.379 L 197.986 372.517 L 199.186 370.505 L 200.386 368.528 L 201.346 367.382 L 202.066 366.831 L 202.786 366.584 L 203.506 366.661 L 204.466 367.108 L 205.666 367.943 L 207.586 369.478 L 208.306 369.758 L 209.026 369.773 L 209.746 369.519 L 210.466 369.027 L 211.906 367.681 L 213.586 366.116 L 214.306 365.660 L 215.026 365.438 L 215.746 365.496 L 216.466 365.841 L 217.186 366.480 L 218.146 367.685 L 221.026 371.656 L 221.986 372.491 L 222.706 372.833 L 223.426 372.962 L 224.146 372.867 L 224.866 372.527 L 225.826 371.739 L 227.026 370.358 L 229.426 367.382 L 230.386 366.545 L 231.346 366.019 L 232.066 365.849 L 233.026 365.894 L 233.746 366.134 L 234.706 366.751 L 236.146 368.065 L 238.546 370.296 L 239.746 371.101 L 240.706 371.467 L 241.666 371.553 L 242.626 371.346 L 243.586 370.889 L 244.786 370.062 L 249.826 366.171 L 251.026 365.635 L 252.226 365.383 L 253.426 365.386 L 254.626 365.633 L 256.306 366.256 L 258.706 367.149 L 260.146 367.463 L 261.586 367.575 L 263.026 367.465 L 264.466 367.122 L 266.866 366.252 L 271.906 364.432 L 273.586 364.176 L 276.226 364.031 L 278.386 364.168 L 282.466 364.453 L 284.146 364.278 L 289.426 363.550 L 291.106 363.615 L 292.786 363.918 L 296.386 364.988 L 299.026 365.617 L 302.386 366.219 L 304.306 366.350 L 307.186 366.304 L 310.786 366.239 L 315.346 366.157 L 318.946 366.136 L 321.346 366.066 L 324.946 365.606 L 328.066 365.310 L 329.746 365.299 L 330.466 365.482 L 331.426 366.011 L 334.306 367.978 L 336.946 369.873 L 337.906 370.132 L 338.866 370.106 L 340.786 369.920 L 341.506 370.077 L 342.706 370.641 L 344.866 371.760 L 345.586 371.839 L 346.066 371.724 L 346.786 371.255 L 347.506 370.462 L 350.626 366.509 L 351.106 366.281 L 351.586 366.248 L 352.066 366.420 L 352.546 366.807 L 353.266 367.758 L 356.146 372.368 L 356.626 372.751 L 357.106 372.910 L 357.586 372.822 L 358.066 372.483 L 358.786 371.544 L 359.746 369.769 L 361.666 366.127 L 362.386 365.202 L 362.866 364.833 L 363.346 364.672 L 363.826 364.730 L 364.306 365.015 L 364.786 365.525 L 365.506 366.641 L 367.906 370.916 L 368.626 371.672 L 369.346 372.077 L 369.826 372.147 L 370.306 372.052 L 371.026 371.619 L 371.986 370.663 L 374.146 368.244 L 374.866 367.726 L 375.586 367.460 L 376.306 367.465 L 377.026 367.764 L 377.746 368.347 L 380.866 371.289 L 381.826 371.754 L 382.546 371.867 L 383.266 371.763 L 384.226 371.334 L 385.426 370.486 L 387.346 369.086 L 388.306 368.687 L 389.266 368.565 L 390.226 368.694 L 391.186 369.078 L 392.866 370.119 L 394.546 371.071 L 395.746 371.482 L 396.946 371.637 L 398.146 371.569 L 399.826 371.222 L 401.986 370.783 L 403.666 370.742 L 405.826 370.927 L 407.746 371.009 L 409.186 370.814 L 411.586 370.199 L 413.026 369.933 L 413.986 370.030 L 414.946 370.419 L 415.906 371.058 L 417.346 372.359 L 419.746 374.585 L 420.706 375.111 L 421.426 375.264 L 422.146 375.167 L 422.866 374.817 L 423.826 374.018 L 425.266 372.418 L 426.706 370.858 L 427.666 370.112 L 428.386 369.767 L 429.106 369.619 L 429.826 369.720 L 430.546 370.096 L 431.266 370.710 L 432.466 372.078 L 434.626 374.613 L 435.586 375.328 L 436.306 375.601 L 437.026 375.623 L 437.746 375.381 L 438.466 374.898 L 439.426 373.962 L 442.546 370.651 L 443.506 369.970 L 444.226 369.705 L 444.946 369.701 L 445.666 369.938 L 446.386 370.392 L 447.346 371.284 L 449.266 373.454 L 450.946 375.260 L 451.906 376.053 L 452.866 376.551 L 453.826 376.768 L 454.786 376.761 L 455.986 376.517 L 457.426 375.952 L 460.786 374.559 L 462.466 374.168 L 464.386 374.008 L 467.746 373.973 L 470.146 374.120 L 471.826 374.459 L 473.266 374.993 L 476.146 376.464 L 477.586 377.082 L 478.786 377.408 L 479.986 377.499 L 481.186 377.340 L 482.386 376.961 L 484.306 376.047 L 486.706 374.920 L 487.906 374.614 L 488.866 374.584 L 489.826 374.803 L 490.786 375.266 L 491.986 376.148 L 497.026 380.169 L 497.986 380.510 L 498.706 380.567 L 499.666 380.390 L 500.626 379.988 L 501.826 379.206 L 504.706 376.972 L 506.146 375.612 L 507.346 374.571 L 508.306 374.003 L 509.266 373.670 L 510.226 373.595 L 511.186 373.742 L 512.146 374.105 L 513.346 374.848 L 516.946 377.237 L 518.626 378.061 L 520.066 378.528 L 521.746 378.826 L 523.426 378.896 L 525.826 378.739 L 533.266 377.930 L 538.546 377.342 L 541.906 377.164 L 544.066 377.272 L 546.946 377.654 L 552.466 378.476 L 555.346 378.622 L 558.226 378.744 L 559.906 379.019 L 561.826 379.594 L 564.466 380.634 L 567.586 381.795 L 569.266 382.070 L 570.226 382.014 L 571.666 381.638 L 572.386 381.200 L 573.826 380.033 L 575.026 378.784 L 577.666 375.497 L 580.066 372.431 L 581.026 371.546 L 581.746 371.138 L 582.706 370.867 L 583.426 370.866 L 584.146 371.040 L 584.626 371.321 L 585.346 372.136 L 586.066 373.277 L 587.026 375.293 L 587.986 377.888 L 588.946 381.083 L 590.386 386.665 L 592.306 395.248 L 594.946 406.651 L 596.146 410.576 L 597.106 413.076 L 597.826 414.546 L 598.546 415.271 L 599.026 415.576 L 599.506 415.240 L 599.986 414.584 L 600.706 412.897 L 601.426 410.249 L 602.146 406.461 L 603.106 399.956 L 604.066 392.128 L 605.266 380.425 L 606.226 368.979 L 608.866 335.428 L 612.226 294.974 L 613.176 290.4 L 614.256 287.52 L 615.528 287.808 L 617.126 301.815 L 618.470 317.666 L 619.643 341.839 L 620.021 353.868 L 620.281 368.080 L 621.78 412.08 L 622.56 440.76 L 622.56 440.76 " clip-path="url(#p043216e6e3)" style="fill: none; stroke: #000000; stroke-width: 1.5; stroke-linecap: square"/></g><g id="patch_30"><path d="M 90 448.56 L 90 279.829 " style="fill: none; stroke: #000000; stroke-width: 0.8; stroke-linejoin: miter; stroke-linecap: square"/></g><g id="patch_31"><path d="M 648 448.56 L 648 279.829 " style="fill: none; stroke: #000000; stroke-width: 0.8; stroke-linejoin: miter; stroke-linecap: square"/></g><g id="patch_32"><path d="M 90 448.56 L 648 448.56 " style="fill: none; stroke: #000000; stroke-width: 0.8; stroke-linejoin: miter; stroke-linecap: square"/></g><g id="patch_33"><path d="M 90 279.829 L 648 279.829 " style="fill: none; stroke: #000000; stroke-width: 0.8; stroke-linejoin: miter; stroke-linecap: square"/></g><g id="legend_6"><g id="patch_34"><path d="M 97 443.56 L 149.785 443.56 Q 151.785 443.56 151.785 441.56 L 151.785 427.881 Q 151.785 425.881 149.785 425.881 L 97 425.881 Q 95 425.881 95 427.881 L 95 441.56 Q 95 443.56 97 443.56 z " style="fill: #ffffff; opacity: 0.8; stroke: #cccccc; stroke-linejoin: miter"/></g><g id="line2d_62"><path d="M 99 433.980 L 109 433.980 L 119 433.980 " style="fill: none; stroke: #000000; stroke-width: 1.5; stroke-linecap: square"/></g><g id="text_70"><text style="font-size: 10px; font-family: 'DejaVu Sans', sans-serif; text-anchor: start" x="127" y="437.240">Flux</text></g></g></g></g><defs><clipPath id="p90ce2bbedb"><rect x="90" y="60.48" width="227.755" height="168.730"/></clipPath><clipPath id="p267cb06d4f"><rect x="420.244" y="60.48" width="227.755" height="168.730"/></clipPath><clipPath id="p043216e6e3"><rect x="90" y="279.829" width="558" height="168.730"/></clipPath></defs></svg> </body></html>
